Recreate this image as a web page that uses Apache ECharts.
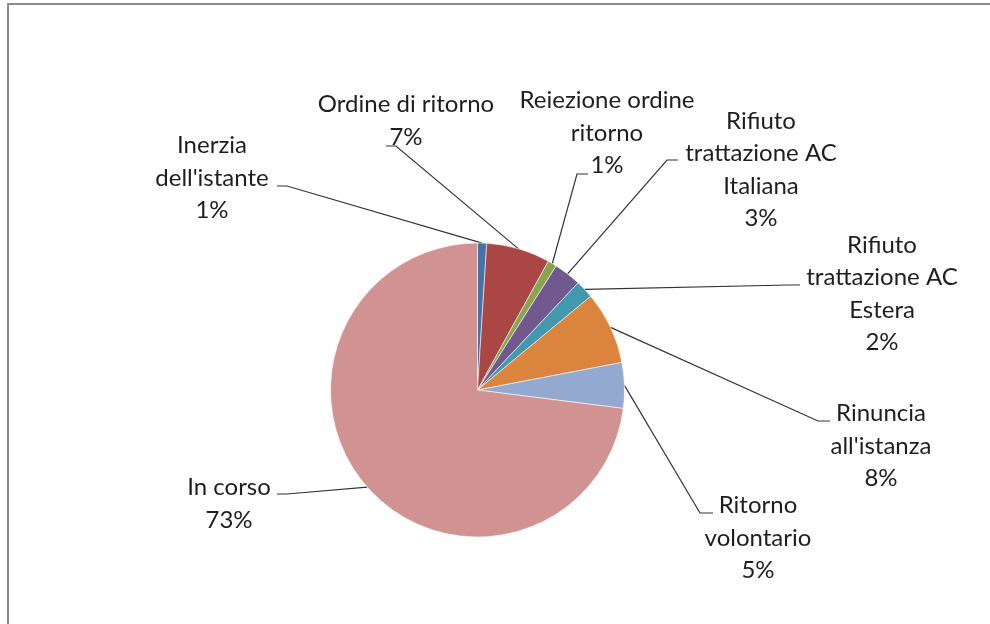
<!DOCTYPE html>
<html>
<head>
<meta charset="utf-8">
<script src="https://cdn.jsdelivr.net/npm/echarts@6/dist/echarts.min.js"></script>
<style>
  html, body { margin: 0; padding: 0; background: #ffffff; }
  #chart { width: 990px; height: 624px; }
</style>
</head>
<body>
<div id="chart"></div>
<script>
// Esiti delle istanze (percentuali)
const categories = [
  "Inerzia dell'istante",
  "Ordine di ritorno",
  "Reiezione ordine ritorno",
  "Rifiuto trattazione AC Italiana",
  "Rifiuto trattazione AC Estera",
  "Rinuncia all'istanza",
  "Ritorno volontario",
  "In corso"
];
const shares = [1, 7, 1, 3, 2, 8, 5, 73];
const colors = ['#4572A7', '#AA4643', '#89A54E', '#71588F', '#4198AF', '#DB843D', '#93A9CF', '#D19392'];

// Label block centre, word breaks, and leader-line elbow/end offsets from the centre
const labelPlacement = [
  { x: 212, y: 178, breaks: [1],    elbow: [75, 8],    end: [65, 8] },
  { x: 406, y: 121, breaks: [],     elbow: [-10, 25],  end: [-20, 25] },
  { x: 607, y: 133, breaks: [2],    elbow: [-30, 41],  end: [-19, 41] },
  { x: 761, y: 170, breaks: [1, 3], elbow: [-94, -10], end: [-83, -10] },
  { x: 882, y: 294, breaks: [1, 3], elbow: [-93, -9],  end: [-82, -9] },
  { x: 881, y: 446, breaks: [1],    elbow: [-63, -25], end: [-51, -25] },
  { x: 758, y: 538, breaks: [1],    elbow: [-58, -25], end: [-45, -25] },
  { x: 229, y: 504, breaks: [],     elbow: [58, -10],  end: [48, -10] }
];

function wrapName(name, breaks) {
  const words = name.split(' ');
  const lines = [];
  let start = 0;
  breaks.concat([words.length]).forEach(function (b) {
    lines.push(words.slice(start, b).join(' '));
    start = b;
  });
  return lines.join('\n');
}

const chart = echarts.init(document.getElementById('chart'), null, { renderer: 'canvas' });

chart.setOption({
  animation: false,
  backgroundColor: '#ffffff',
  color: colors,
  graphic: [{
    type: 'rect',
    shape: { x: 8, y: 4, width: 1000, height: 700 },
    style: { fill: 'none', stroke: '#8a8a8a', lineWidth: 2 },
    silent: true
  }],
  series: [{
    type: 'pie',
    center: [477.5, 390],
    radius: 147,
    startAngle: 90,
    clockwise: true,
    avoidLabelOverlap: false,
    percentPrecision: 0,
    itemStyle: { borderColor: 'rgba(255,255,255,0.7)', borderWidth: 0.8 },
    label: {
      show: true,
      position: 'outside',
      fontFamily: 'Lato',
      fontSize: 24,
      lineHeight: 32.5,
      color: '#1e1e1e',
      formatter: function (p) {
        return wrapName(p.name, labelPlacement[p.dataIndex].breaks) + '\n' + p.percent + '%';
      }
    },
    labelLine: {
      show: true,
      smooth: false,
      length: 10,
      length2: 10,
      lineStyle: { color: '#333333', width: 1.2 }
    },
    labelLayout: function (p) {
      const L = labelPlacement[p.dataIndex];
      const out = { x: L.x, y: L.y, align: 'center', verticalAlign: 'middle' };
      if (p.labelLinePoints && p.labelLinePoints.length) {
        out.labelLinePoints = [
          p.labelLinePoints[0],
          [L.x + L.elbow[0], L.y + L.elbow[1]],
          [L.x + L.end[0], L.y + L.end[1]]
        ];
      }
      return out;
    },
    emphasis: { disabled: true },
    data: categories.map(function (name, i) {
      return { name: name, value: shares[i] };
    })
  }]
});
</script>
</body>
</html>
